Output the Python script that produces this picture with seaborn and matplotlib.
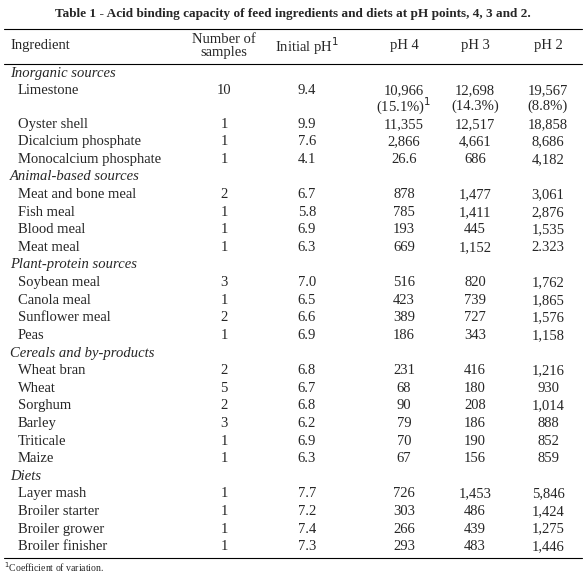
import matplotlib
matplotlib.use("Agg")
import matplotlib.pyplot as plt
import seaborn as sns

sns.set_theme(style="white")
plt.rcParams['font.family'] = ['Liberation Serif', 'DejaVu Serif']

title = "Table 1 - Acid binding capacity of feed ingredients and diets at pH points, 4, 3 and 2."
groups = ["Inorganic sources", "Animal-based sources", "Plant-protein sources",
          "Cereals and by-products", "Diets"]
ingredients = [
    ["Limestone", "Oyster shell", "Dicalcium phosphate", "Monocalcium phosphate"],
    ["Meat and bone meal", "Fish meal", "Blood meal", "Meat meal"],
    ["Soybean meal", "Canola meal", "Sunflower meal", "Peas"],
    ["Wheat bran", "Wheat", "Sorghum", "Barley", "Triticale", "Maize"],
    ["Layer mash", "Broiler starter", "Broiler grower", "Broiler finisher"],
]
n_samples = [["10", "1", "1", "1"], ["2", "1", "1", "1"], ["3", "1", "2", "1"],
             ["2", "5", "2", "3", "1", "1"], ["1", "1", "1", "1"]]
initial_ph = [["9.4", "9.9", "7.6", "4.1"], ["6.7", "5.8", "6.9", "6.3"],
              ["7.0", "6.5", "6.6", "6.9"], ["6.8", "6.7", "6.8", "6.2", "6.9", "6.3"],
              ["7.7", "7.2", "7.4", "7.3"]]
ph4 = [["10,966", "11,355", "2,866", "26.6"], ["878", "785", "193", "669"],
       ["516", "423", "389", "186"], ["231", "68", "90", "79", "70", "67"],
       ["726", "303", "266", "293"]]
ph3 = [["12,698", "12,517", "4,661", "686"], ["1,477", "1,411", "445", "1,152"],
       ["820", "739", "727", "343"], ["416", "180", "208", "186", "190", "156"],
       ["1,453", "486", "439", "483"]]
ph2 = [["19,567", "18,858", "8,686", "4,182"], ["3,061", "2,876", "1,535", "2.323"],
       ["1,762", "1,865", "1,576", "1,158"], ["1,216", "930", "1,014", "888", "852", "859"],
       ["5,846", "1,424", "1,275", "1,446"]]
cv_limestone = ["(15.1%)", "(14.3%)", "(8.8%)"]

fig = plt.figure(figsize=(5.86, 5.76), dpi=100)
ax = fig.add_axes([0, 0, 1, 1])
ax.set_xlim(0, 586); ax.set_ylim(576, 0); ax.axis("off")
fs = 10.5
xc = [224, 307, 404, 475, 548]

ax.text(293, 14, title, ha="center", va="center", fontsize=9.5, fontweight="bold")
ax.plot([4, 582], [29, 29], color="black", lw=0.8)
ax.plot([4, 582], [64, 64], color="black", lw=0.8)
ax.text(10, 46, "Ingredient", ha="left", va="center", fontsize=fs)
ax.text(xc[0], 46, "Number of\nsamples", ha="center", va="center", fontsize=fs, linespacing=1.0)
ax.text(xc[1], 46, "Initial pH$^{1}$", ha="center", va="center", fontsize=fs)
for x, h in zip(xc[2:], ["pH 4", "pH 3", "pH 2"]):
    ax.text(x, 46, h, ha="center", va="center", fontsize=fs)

y = 73
for g, items, ns, ip, a, b, c in zip(groups, ingredients, n_samples, initial_ph, ph4, ph3, ph2):
    ax.text(10, y, g, ha="left", va="center", fontsize=fs, style="italic")
    y += 17.6
    for i, name in enumerate(items):
        ax.text(18, y, name, ha="left", va="center", fontsize=fs)
        for x, v in zip(xc, [ns[i], ip[i], a[i], b[i], c[i]]):
            ax.text(x, y, v, ha="center", va="center", fontsize=fs)
        if name == "Limestone":
            y += 16
            ax.text(xc[2], y, cv_limestone[0] + "$^{1}$", ha="center", va="center", fontsize=fs)
            ax.text(xc[3], y, cv_limestone[1], ha="center", va="center", fontsize=fs)
            ax.text(xc[4], y, cv_limestone[2], ha="center", va="center", fontsize=fs)
        y += 17.6

ax.plot([4, 582], [558, 558], color="black", lw=0.8)
ax.text(4, 567, "$^{1}$Coefficient of variation.", ha="left", va="center", fontsize=7)
fig.savefig("out.png", dpi=100)
